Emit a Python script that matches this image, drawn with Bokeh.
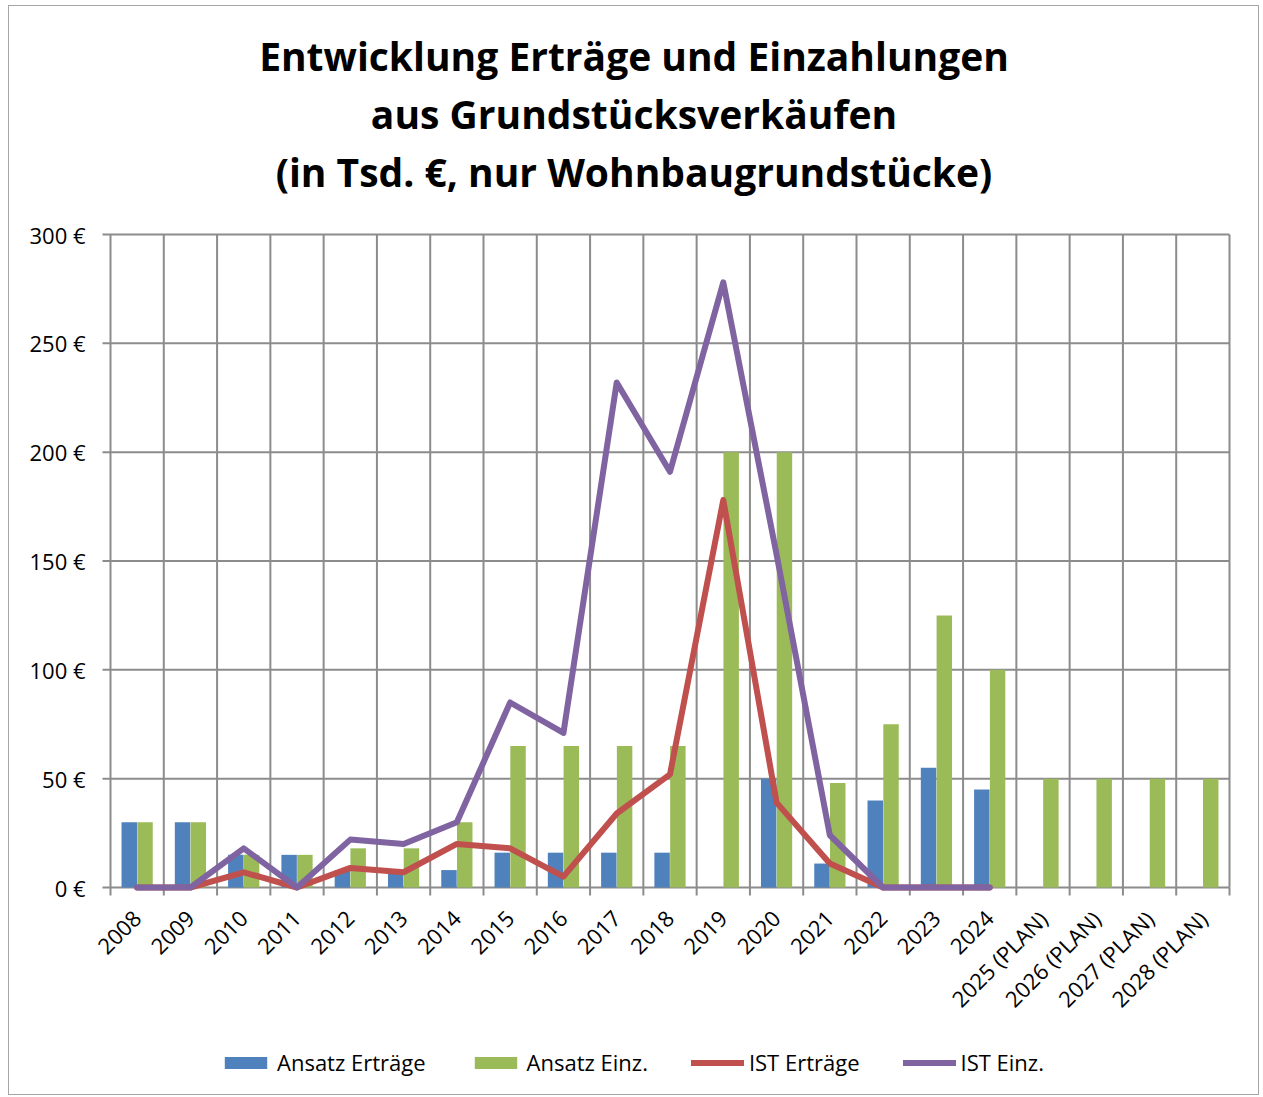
import math
from bokeh.plotting import figure
from bokeh.models import (Legend, LegendItem, Title, Range1d, ColumnDataSource)
from bokeh.core.properties import value
from bokeh.embed import file_html
from bokeh.resources import INLINE

categories = ["2008", "2009", "2010", "2011", "2012", "2013", "2014", "2015", "2016",
              "2017", "2018", "2019", "2020", "2021", "2022", "2023", "2024",
              "2025 (PLAN)", "2026 (PLAN)", "2027 (PLAN)", "2028 (PLAN)"]
ansatz_ertraege = [30, 30, 15, 15, 8, 8, 8, 16, 16, 16, 16, 0, 50, 11, 40, 55, 45, 0, 0, 0, 0]
ansatz_einz = [30, 30, 15, 15, 18, 18, 30, 65, 65, 65, 65, 200, 200, 48, 75, 125, 100, 50, 50, 50, 50]
ist_ertraege = [0, 0, 7, 0, 9, 7, 20, 18, 5, 34, 52, 178, 39, 11, 0, 0, 0]
ist_einz = [0, 0, 18, 0, 22, 20, 30, 85, 71, 232, 191, 278, 153, 24, 0, 0, 0]
y_ticks = [0, 50, 100, 150, 200, 250, 300]
y_labels = ["0 €", "50 €", "100 €", "150 €", "200 €", "250 €", "300 €"]
series_names = ["Ansatz Erträge", "Ansatz Einz.", "IST Erträge", "IST Einz."]
title_lines = ["Entwicklung Erträge und Einzahlungen",
               "aus Grundstücksverkäufen",
               "(in Tsd. €, nur Wohnbaugrundstücke)"]

BLUE = "#4F81BD"
GREEN = "#9BBB59"
RED = "#C0504D"
PURPLE = "#8064A2"
GRID = "#8c8c8c"
FONT = "Open Sans"

# layout constants (pixels)
ML, MR = 101, 29          # space left / right of the plotting area
FW, FH = 1119, 653        # plotting area size
TOP_PAD = 16
FHT = 876                 # full drawing area height (plot + labels + legend)
MT = 212

n = len(categories)
idx = list(range(n))
bounds = [i - 0.5 for i in range(n + 1)]
y_max = max(y_ticks)
ppu = FW / n              # pixels per category
upp = y_max / FH          # value units per pixel

x_lo = -0.5 - ML / ppu
x_hi = n - 0.5 + MR / ppu
y_hi = y_max + TOP_PAD * upp
y_lo = y_hi - FHT * upp

p = figure(frame_width=ML + FW + MR, frame_height=FHT, output_backend="svg",
           toolbar_location=None, x_axis_location=None, y_axis_location=None,
           x_range=Range1d(x_lo, x_hi), y_range=Range1d(y_lo, y_hi),
           min_border_left=0, min_border_right=0, min_border_top=MT,
           min_border_bottom=0)
p.styles = {"border": "1px solid #a6a6a6", "margin": "5px 0 0 8px"}
p.grid.visible = False
p.outline_line_color = None
p.background_fill_color = "white"
p.border_fill_color = "white"

# titles (spacer first = closest to the drawing area)
p.add_layout(Title(text=" ", text_font_size="10px", standoff=6), "above")
for t in reversed(title_lines):
    p.add_layout(Title(text=t, align="center", text_font=FONT, text_font_size="39px",
                       text_font_style="bold", text_color="black", standoff=3,
                       offset=0), "above")

# grid lines and tick marks
x_left, x_right = -0.5, n - 0.5
p.segment(x0=bounds, y0=[0] * len(bounds), x1=bounds, y1=[y_max] * len(bounds),
          line_color=GRID, line_width=2)
p.segment(x0=bounds, y0=[0] * len(bounds), x1=bounds, y1=[-8 * upp] * len(bounds),
          line_color=GRID, line_width=2)
p.segment(x0=[x_left - 8 / ppu] * len(y_ticks), y0=y_ticks,
          x1=[x_right] * len(y_ticks), y1=y_ticks, line_color=GRID, line_width=2)

# data
w = 0.29
src_b = ColumnDataSource(dict(x=[i - 0.148 for i in idx], top=ansatz_ertraege))
src_g = ColumnDataSource(dict(x=[i + 0.148 for i in idx], top=ansatz_einz))
r1 = p.vbar(x="x", top="top", width=w, source=src_b, fill_color=BLUE, line_color=None)
r2 = p.vbar(x="x", top="top", width=w, source=src_g, fill_color=GREEN, line_color=None)
r3 = p.line(idx[:len(ist_ertraege)], ist_ertraege, line_color=RED, line_width=6,
            line_join="round", line_cap="round")
r4 = p.line(idx[:len(ist_einz)], ist_einz, line_color=PURPLE, line_width=6,
            line_join="round", line_cap="round")

# y tick labels
ylab = ColumnDataSource(dict(x=[x_left - 25 / ppu] * len(y_ticks), y=y_ticks, text=y_labels))
p.text(x="x", y="y", text="text", source=ylab, text_align="right",
       text_baseline="middle", text_font=value(FONT), text_font_size="22px",
       text_color="black")

# x tick labels (rotated 45 degrees)
xlab = ColumnDataSource(dict(x=idx, y=[-27 * upp] * n, text=categories))
p.text(x="x", y="y", text="text", source=xlab, angle=math.pi / 4,
       text_align="right", text_baseline="middle", text_font=value(FONT),
       text_font_size="22px", text_color="black")

legend = Legend(items=[LegendItem(label=series_names[0], renderers=[r1]),
                       LegendItem(label=series_names[1], renderers=[r2]),
                       LegendItem(label=series_names[2], renderers=[r3]),
                       LegendItem(label=series_names[3], renderers=[r4])],
                orientation="horizontal", location=(210, 17),
                label_text_font=FONT, label_text_font_size="22px",
                label_text_color="black", glyph_width=53, glyph_height=15,
                label_standoff=5, spacing=43, border_line_color=None,
                background_fill_alpha=0, margin=0, padding=4)
p.add_layout(legend, "center")

open("out.html", "w").write(file_html(p, INLINE))
